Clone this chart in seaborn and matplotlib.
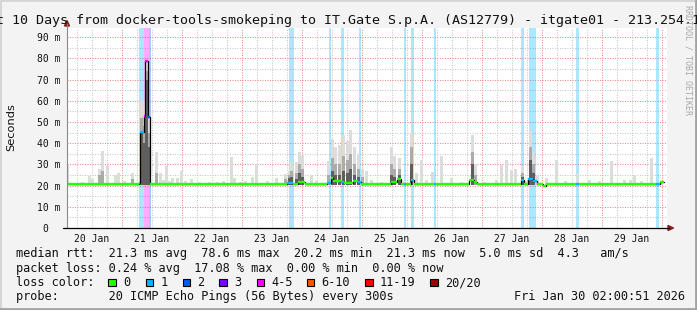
import numpy as np
import pandas as pd
import matplotlib
matplotlib.use("Agg")
import matplotlib.pyplot as plt
import seaborn as sns
from matplotlib.patches import Rectangle, Polygon
from matplotlib.lines import Line2D
from matplotlib.transforms import ScaledTranslation

# ---------------- data ----------------
loss_labels = ["0", "1", "2", "3", "4-5", "6-10", "11-19", "20/20"]
loss_colors = ["#26ff00", "#00b8ff", "#0059ff", "#7e00ff", "#ff00ff", "#ff5500", "#ff0000", "#a10000"]

day_labels = ["20 Jan", "21 Jan", "22 Jan", "23 Jan", "24 Jan",
              "25 Jan", "26 Jan", "27 Jan", "28 Jan", "29 Jan"]
day_label_hours = [12, 36, 60, 84, 108, 132, 156, 180, 204, 228]   # hours since 20 Jan 00:00

y_ticks = [0, 10, 20, 30, 40, 50, 60, 70, 80, 90]
y_tick_labels = ["0", "10 m", "20 m", "30 m", "40 m", "50 m", "60 m", "70 m", "80 m", "90 m"]

x_start_h = 2.014     # Tue Jan 20 02:00:51
x_end_h = 242.014     # Fri Jan 30 02:00:51

# median rtt (ms) as steps: start hour, value, loss class index
median_h = [2.0, 30.8, 31.4, 32.8, 33.2, 34.6, 35.4, 90.0, 92.4, 94.4, 97.2,
            106.0, 107.6, 108.4, 111.6, 112.8, 116.4, 118.4, 119.8,
            131.6, 134.0, 135.6, 136.9, 137.6, 139.6, 140.8, 148.9, 149.6,
            162.8, 164.8, 166.0, 183.6, 184.8, 186.6, 188.4, 190.0, 192.4, 193.6,
            205.6, 206.8, 237.6, 238.9, 239.2]
median_ms = [20.6, 21.0, 45.4, 52.6, 78.6, 52.3, 20.6, 21.4, 20.9, 21.6, 20.6,
             21.0, 23.4, 22.0, 21.8, 21.4, 22.0, 21.8, 20.6,
             21.5, 23.0, 20.6, 20.6, 20.6, 22.6, 20.6, 20.6, 20.6,
             22.8, 21.8, 20.6, 22.6, 20.6, 23.2, 22.0, 20.6, 20.0, 20.6,
             20.6, 20.6, 20.6, 20.6, 21.6]
median_loss = [0, 1, 1, 4, 4, 2, 0, 1, 0, 0, 0,
               1, 0, 0, 1, 0, 0, 1, 0,
               0, 0, 0, 1, 0, 1, 0, 1, 0,
               0, 0, 0, 1, 0, 1, 1, 0, 0, 0,
               1, 0, 1, 0, 0]
median_end_h = 240.8

# smoke (ping spread): hour, max, upper of mid band, upper of dark band (0 = none)
smoke_h = [2.4, 8.2, 11.0, 12.4, 15.0, 16.2, 18.2, 21.4, 22.6, 25.2, 28.2,
           31.8, 32.6, 33.8, 34.8,
           38.0, 39.4, 40.8, 42.0, 43.0, 44.4, 46.2, 47.8, 49.6, 52.0, 55.2, 59.2,
           62.4, 64.8, 67.8, 69.2, 71.6, 73.6, 76.2, 78.0, 82.4, 86.0, 89.4,
           91.0, 92.0, 93.8, 95.2, 96.4, 99.8, 102.0, 106.6, 108.2, 109.6, 111.2,
           112.8, 114.2, 115.6, 117.2, 118.8, 120.4, 122.0, 124.0, 128.0,
           131.8, 133.2, 135.0, 137.2, 140.0, 141.8, 144.0, 146.0, 148.2, 152.0,
           156.0, 160.0, 164.2, 165.6, 169.2, 174.0, 176.0, 178.0, 180.0, 181.6,
           184.2, 186.0, 187.4, 188.8, 190.4, 194.0, 198.0, 201.6, 206.2, 211.2,
           215.2, 220.0, 225.2, 227.6, 229.2, 232.0, 236.0, 240.0]
smoke_max = [29.5, 21.8, 24.7, 23.0, 28.0, 36.3, 29.0, 25.0, 26.0, 22.0, 26.0,
             60.0, 60.0, 78.6, 52.0,
             36.0, 26.0, 22.5, 29.3, 22.0, 23.7, 23.7, 27.0, 22.0, 23.0, 21.6, 21.5,
             21.6, 22.0, 33.6, 23.6, 21.8, 22.2, 24.0, 30.0, 22.0, 23.5, 25.5,
             27.0, 30.6, 31.3, 36.0, 34.0, 25.0, 22.0, 31.6, 42.0, 38.3, 39.0,
             44.0, 41.0, 46.0, 38.0, 35.0, 28.0, 27.0, 22.5, 21.8,
             38.3, 34.0, 33.0, 22.0, 45.0, 26.0, 32.0, 22.5, 26.6, 34.0,
             23.5, 21.8, 44.0, 30.0, 21.8, 22.6, 29.7, 32.0, 27.4, 28.0,
             29.0, 22.0, 46.0, 36.0, 25.0, 23.6, 32.0, 22.0, 26.0, 22.5,
             22.0, 31.7, 22.5, 22.6, 25.0, 22.0, 33.0, 21.8]
smoke_mid = [0, 0, 0, 0, 25.0, 27.0, 0, 0, 0, 0, 23.0,
             52.0, 48.0, 74.0, 45.0,
             26.0, 0, 0, 0, 0, 0, 0, 0, 0, 0, 0, 0,
             0, 0, 0, 0, 0, 0, 0, 0, 0, 0, 23.0,
             25.0, 27.0, 26.0, 30.0, 28.0, 0, 0, 25.0, 33.0, 30.0, 30.0,
             34.0, 32.0, 35.0, 30.0, 28.0, 24.0, 0, 0, 0,
             30.0, 28.0, 28.0, 0, 38.0, 0, 0, 0, 0, 0,
             0, 0, 36.0, 25.0, 0, 0, 0, 0, 0, 0,
             26.0, 0, 38.0, 30.0, 0, 0, 0, 0, 0, 0,
             0, 0, 0, 0, 0, 0, 0, 0]
smoke_dark = [0, 0, 0, 0, 0, 0, 0, 0, 0, 0, 0,
              45.0, 40.0, 70.0, 38.0,
              0, 0, 0, 0, 0, 0, 0, 0, 0, 0, 0, 0,
              0, 0, 0, 0, 0, 0, 0, 0, 0, 0, 0,
              23.5, 24.0, 23.0, 26.0, 24.0, 0, 0, 0, 27.0, 25.0, 25.0,
              27.0, 26.0, 28.0, 25.0, 24.0, 0, 0, 0, 0,
              25.0, 24.0, 25.0, 0, 30.0, 0, 0, 0, 0, 0,
              0, 0, 30.0, 0, 0, 0, 0, 0, 0, 0,
              24.0, 0, 32.0, 26.0, 0, 0, 0, 0, 0, 0,
              0, 0, 0, 0, 0, 0, 0, 0]
smoke_floor = 20.4

# packet-loss background stripes: start hour, end hour, loss class index
stripe_start = [30.8, 32.8, 34.8, 90.8, 106.9, 111.6, 118.7, 136.9, 139.6,
                148.9, 183.6, 186.7, 205.6, 237.6]
stripe_end = [32.8, 34.8, 35.6, 92.8, 107.7, 112.7, 119.6, 137.6, 140.7,
              149.6, 184.7, 189.6, 206.7, 238.9]
stripe_loss = [1, 4, 2, 1, 1, 1, 1, 1, 1, 1, 1, 1, 1, 1]

# summary statistics
rtt_stats = {"avg": 21.3, "max": 78.6, "min": 20.2, "now": 21.3}
rtt_sd = 5.0
rtt_ams = 4.3
loss_stats = {"avg": 0.24, "max": 17.08, "min": 0.00, "now": 0.00}
probe_text = "20 ICMP Echo Pings (56 Bytes) every 300s"
stamp_text = "Fri Jan 30 02:00:51 2026"
title_text = "Last 10 Days from docker-tools-smokeping to IT.Gate S.p.A. (AS12779) - itgate01 - 213.254.1"

# ---------------- drawing ----------------
sns.set_style("white")
MONO = "DejaVu Sans Mono"
plt.rcParams["font.family"] = ["DejaVu Sans"]

W, H = 697, 310
fig = plt.figure(figsize=(W / 100, H / 100), dpi=100, facecolor="#f3f3f3")


def fx(x):
    return x / W


def fy(y):
    return 1 - y / H


ax = fig.add_axes([fx(67), fy(228), 600 / W, 200 / H])
ax.set_facecolor("white")
ax.set_xlim(x_start_h, x_end_h)
ax.set_ylim(0, 94.3)

# grid (drawn below everything)
dot = (0, (1.0, 1.4))
for h in np.arange(6, x_end_h, 6):
    major = (h % 24 == 0)
    ax.axvline(h, color="#f08a8a" if major else "#c8c8c8", lw=0.75, ls=dot, zorder=0.5)
for v in np.arange(5, 95, 5):
    major = (v % 10 == 0)
    ax.axhline(v, color="#f08a8a" if major else "#c8c8c8", lw=0.75, ls=dot, zorder=0.5)

# loss stripes
for s, e, l in zip(stripe_start, stripe_end, stripe_loss):
    ax.axvspan(s, e, color=loss_colors[l], alpha=0.33, lw=0, zorder=1)

# smoke
sh = np.array(smoke_h)
smax = np.array(smoke_max)
smid = np.array(smoke_mid)
sdark = np.array(smoke_dark)
bw = 1.2
ax.bar(sh, smax - smoke_floor, bottom=smoke_floor, width=bw, color="#dcdcdc", lw=0, zorder=2)
m = smid > 0
ax.bar(sh[m], smid[m] - smoke_floor, bottom=smoke_floor, width=bw, color="#ababab", lw=0, zorder=2.1)
m = sdark > 0
ax.bar(sh[m], sdark[m] - smoke_floor, bottom=smoke_floor, width=bw, color="#5e5e5e", lw=0, zorder=2.2)

# median line: black step outline + colored loss segments
med = pd.DataFrame({"h": median_h + [median_end_h], "ms": median_ms + [median_ms[-1]]})
sns.lineplot(data=med, x="h", y="ms", drawstyle="steps-post", color="black",
             lw=0.9, ax=ax, zorder=3, estimator=None)
seg_end = median_h[1:] + [median_end_h]
ax.hlines(median_ms, median_h, seg_end, colors=[loss_colors[l] for l in median_loss],
          lw=1.7, zorder=4)

ax.set_xlabel("")
ax.set_ylabel("")
for sp in ax.spines.values():
    sp.set_visible(False)

ax.set_xticks(day_label_hours, day_labels)
ax.set_yticks(y_ticks, y_tick_labels)
ax.tick_params(axis="x", length=0, pad=4.2, labelsize=7.0)
ax.tick_params(axis="y", length=0, pad=5.0, labelsize=7.0)
for t in ax.get_xticklabels() + ax.get_yticklabels():
    t.set_fontfamily(MONO)
    t.set_color("#111111")
zero_lab = ax.get_yticklabels()[0]
zero_lab.set_transform(zero_lab.get_transform() + ScaledTranslation(-0.12, 0, fig.dpi_scale_trans))

# axis lines and arrows (figure pixel space)
fig.add_artist(Line2D([fx(67), fx(67)], [fy(228), fy(24)], color="#8a8a8a", lw=0.8))
fig.add_artist(Line2D([fx(63), fx(669)], [fy(228), fy(228)], color="black", lw=0.9))
fig.add_artist(Polygon([[fx(64.5), fy(26)], [fx(69.5), fy(26)], [fx(67), fy(20.5)]],
                       closed=True, color="#8b1a1a"))
fig.add_artist(Polygon([[fx(668), fy(225.5)], [fx(668), fy(230.5)], [fx(673.5), fy(228)]],
                       closed=True, color="#8b1a1a"))

# frame
fig.add_artist(Line2D([0, 1], [fy(0.8), fy(0.8)], color="#d6d6d6", lw=1.4))
fig.add_artist(Line2D([fx(0.8), fx(0.8)], [0, 1], color="#d6d6d6", lw=1.4))
fig.add_artist(Line2D([0, 1], [fy(308.8), fy(308.8)], color="#a3a3a3", lw=2.0))
fig.add_artist(Line2D([fx(695.8), fx(695.8)], [0, 1], color="#a3a3a3", lw=2.0))

# texts
fig.text(fx(-28), fy(24), title_text, ha="left", va="baseline", fontsize=9.6,
         family=MONO, color="#111111")
fig.text(fx(688), fy(60), "RRDTOOL / TOBI OETIKER", rotation=270, ha="center", va="center",
         fontsize=6.0, family=MONO, color="#a8a8a8")
fig.text(fx(11), fy(127), "Seconds", rotation=90, ha="center", va="center", fontsize=8.2,
         color="#111111")

LFS = 8.55
line1 = ("median rtt:  {:.1f} ms avg  {:.1f} ms max  {:.1f} ms min  {:.1f} ms now  "
         "{:.1f} ms sd  {:.1f}   am/s").format(rtt_stats["avg"], rtt_stats["max"],
                                              rtt_stats["min"], rtt_stats["now"], rtt_sd, rtt_ams)
line2 = "packet loss: {:.2f} % avg  {:.2f} % max  {:.2f} % min  {:.2f} % now".format(
    loss_stats["avg"], loss_stats["max"], loss_stats["min"], loss_stats["now"])
line4 = "probe:       " + probe_text
fig.text(fx(16), fy(257.3), line1, ha="left", va="baseline", fontsize=LFS, family=MONO, color="#111111")
fig.text(fx(16), fy(271.6), line2, ha="left", va="baseline", fontsize=LFS, family=MONO, color="#111111")
fig.text(fx(16), fy(286.0), "loss color:", ha="left", va="baseline", fontsize=LFS, family=MONO, color="#111111")
fig.text(fx(16), fy(300.2), line4, ha="left", va="baseline", fontsize=LFS, family=MONO, color="#111111")
fig.text(fx(513.7), fy(300.2), stamp_text, ha="left", va="baseline", fontsize=LFS, family=MONO, color="#111111")

box_x = [108.3, 145.7, 182.7, 219.3, 256.7, 306.7, 365.3, 430.3]
for bx, lab, col in zip(box_x, loss_labels, loss_colors):
    fig.add_artist(Rectangle((fx(bx), fy(286.3)), 7.6 / W, 7.8 / H, facecolor=col,
                             edgecolor="black", lw=0.8))
    fig.text(fx(bx + 14.6), fy(286.0), lab, ha="left", va="baseline", fontsize=LFS,
             family=MONO, color="#111111")

fig.savefig("out.png", dpi=100, facecolor=fig.get_facecolor())
